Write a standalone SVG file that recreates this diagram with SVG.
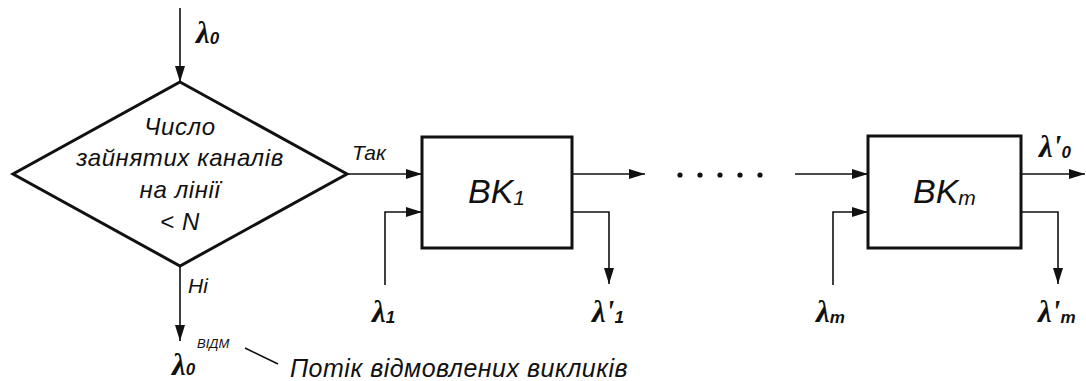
<svg xmlns="http://www.w3.org/2000/svg" width="1086" height="381" viewBox="0 0 1086 381">
<style>
.shape{fill:#fff;stroke:#111;stroke-width:3;stroke-linejoin:miter}
.conn{fill:none;stroke:#111;stroke-width:1.6}
.t{font-family:"Liberation Sans",Arial,sans-serif;font-style:italic;fill:#111}
.lam{font-family:"Liberation Serif","Times New Roman",serif;font-style:italic;font-weight:bold;fill:#111;font-size:31px}
.sub{font-family:"Liberation Sans",Arial,sans-serif;font-style:italic;font-weight:bold;font-size:17px}
</style>
<defs>
<marker id="ah" markerUnits="userSpaceOnUse" markerWidth="16" markerHeight="10" refX="16" refY="5" orient="auto">
<path d="M0,0 L16,5 L0,10 Z" fill="#111"/>
</marker>
</defs>
<rect width="1086" height="381" fill="#fff"/>
<g id="decision">
<polygon class="shape" points="180,82 347,174 180,266 13,174"/>
<text class="t" font-size="24" letter-spacing="0.6" text-anchor="middle" x="180" y="135">Число</text>
<text class="t" font-size="24" letter-spacing="0.6" text-anchor="middle" x="180" y="166">зайнятих каналів</text>
<text class="t" font-size="24" letter-spacing="0.6" text-anchor="middle" x="180" y="198">на лінії</text>
<text class="t" font-size="24" letter-spacing="0.6" text-anchor="middle" x="180" y="230">&lt; N</text>
</g>
<g id="bk1">
<rect class="shape" x="422" y="137" width="150" height="111"/>
<text class="t" font-size="34" x="468" y="203">BK<tspan font-size="21" dy="2">1</tspan></text>
</g>
<g id="bkm">
<rect class="shape" x="868" y="136" width="153" height="112"/>
<text class="t" font-size="34" x="913" y="203">BK<tspan font-size="21" dy="2">m</tspan></text>
</g>
<g id="connectors">
<line class="conn" x1="180" y1="8" x2="180" y2="82" marker-end="url(#ah)"/>
<line class="conn" x1="180" y1="266" x2="180" y2="341" marker-end="url(#ah)"/>
<line class="conn" x1="347" y1="174" x2="422" y2="174" marker-end="url(#ah)"/>
<polyline class="conn" points="385,285 385,212 422,212" marker-end="url(#ah)"/>
<line class="conn" x1="572" y1="174" x2="645" y2="174" marker-end="url(#ah)"/>
<polyline class="conn" points="572,212 609,212 609,284" marker-end="url(#ah)"/>
<line class="conn" x1="795" y1="174" x2="868" y2="174" marker-end="url(#ah)"/>
<polyline class="conn" points="833,285 833,212 868,212" marker-end="url(#ah)"/>
<line class="conn" x1="1021" y1="174" x2="1085" y2="174" marker-end="url(#ah)"/>
<polyline class="conn" points="1021,212 1058,212 1058,284" marker-end="url(#ah)"/>
<line class="conn" x1="245" y1="348" x2="278" y2="364"/>
</g>
<g id="dots" fill="#111">
<circle cx="680" cy="175" r="2.6"/>
<circle cx="700" cy="175" r="2.6"/>
<circle cx="720" cy="175" r="2.6"/>
<circle cx="740" cy="175" r="2.6"/>
<circle cx="760" cy="175" r="2.6"/>
</g>
<g id="labels">
<text class="lam" x="196" y="43">λ<tspan class="sub" dy="1">0</tspan></text>
<text class="t" font-size="21" x="352" y="160">Так</text>
<text class="t" font-size="21" x="188" y="293">Ні</text>
<text class="lam" x="372" y="322">λ<tspan class="sub" dy="1">1</tspan></text>
<text class="lam" x="592" y="322">λ'<tspan class="sub" dy="1">1</tspan></text>
<text class="lam" x="816" y="322">λ<tspan class="sub" dy="1">m</tspan></text>
<text class="lam" x="1038" y="322">λ'<tspan class="sub" dy="1">m</tspan></text>
<text class="lam" x="1039" y="157">λ'<tspan class="sub" dy="1">0</tspan></text>
<text class="lam" x="172" y="375">λ<tspan class="sub" dy="0">0</tspan></text>
<text class="t" font-size="13" x="197" y="348">ВІДМ</text>
<text class="t" font-size="25" letter-spacing="0.5" x="290" y="377">Потік відмовлених викликів</text>
</g>
</svg>
